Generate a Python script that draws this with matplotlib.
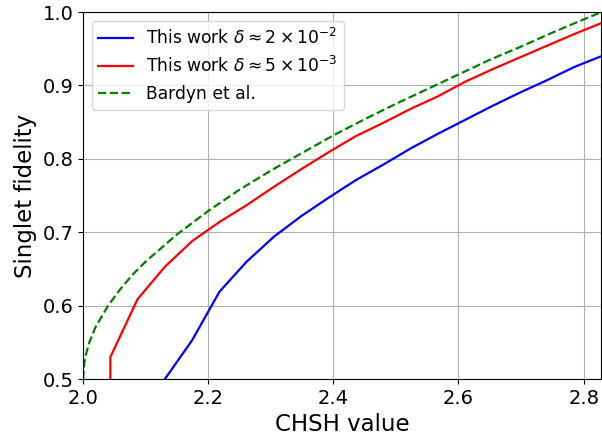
import matplotlib
matplotlib.use("Agg")
import matplotlib.pyplot as plt

# CHSH values and singlet fidelity
chsh_work = [2.0436, 2.0436, 2.0872, 2.1308, 2.1744, 2.2180, 2.2615, 2.3051,
             2.3487, 2.3923, 2.4359, 2.4795, 2.5231, 2.5667, 2.6103, 2.6539,
             2.6974, 2.7410, 2.7846, 2.8284]
fid_delta_5e3 = [0.500, 0.530, 0.609, 0.653, 0.688, 0.714, 0.737, 0.762,
                 0.786, 0.809, 0.831, 0.849, 0.868, 0.885, 0.905, 0.922,
                 0.938, 0.954, 0.970, 0.985]

chsh_blue = [2.1308, 2.1744, 2.2180, 2.2615, 2.3051, 2.3487, 2.3923, 2.4359,
             2.4795, 2.5231, 2.5667, 2.6103, 2.6539, 2.6974, 2.7410, 2.7846,
             2.8284]
fid_delta_2e2 = [0.500, 0.553, 0.619, 0.660, 0.694, 0.722, 0.747, 0.771,
                 0.792, 0.814, 0.834, 0.853, 0.872, 0.890, 0.907, 0.925,
                 0.940]

chsh_bardyn = [2.0, 2.002, 2.005, 2.01, 2.02, 2.04, 2.06, 2.08, 2.10, 2.15,
               2.20, 2.25, 2.30, 2.35, 2.40, 2.45, 2.50, 2.55, 2.60, 2.65,
               2.70, 2.75, 2.80, 2.8284]
fid_bardyn = [0.500, 0.522, 0.535, 0.550, 0.571, 0.600, 0.623, 0.643, 0.660,
              0.697, 0.729, 0.758, 0.784, 0.808, 0.832, 0.854, 0.875, 0.895,
              0.915, 0.935, 0.953, 0.972, 0.990, 1.000]

x_ticks = [2.0, 2.2, 2.4, 2.6, 2.8]
y_ticks = [0.5, 0.6, 0.7, 0.8, 0.9, 1.0]

fig, ax = plt.subplots(figsize=(6.02, 4.48), dpi=100)
fig.subplots_adjust(left=0.138, right=0.999, top=0.973, bottom=0.154)

ax.plot(chsh_blue, fid_delta_2e2, color="blue", lw=1.6,
        label=r"This work $\delta \approx 2 \times 10^{-2}$")
ax.plot(chsh_work, fid_delta_5e3, color="red", lw=1.6,
        label=r"This work $\delta \approx 5 \times 10^{-3}$")
ax.plot(chsh_bardyn, fid_bardyn, "g--", lw=1.6, label="Bardyn et al.")

ax.set_xlim(2.0, 2.8284)
ax.set_ylim(0.5, 1.0)
ax.set_xticks(x_ticks)
ax.set_yticks(y_ticks)
ax.tick_params(labelsize=14)
ax.grid(True)
ax.set_xlabel("CHSH value", fontsize=16.5)
ax.set_ylabel("Singlet fidelity", fontsize=16.5)
ax.legend(loc="upper left", fontsize=12.3)

fig.savefig("out.png", dpi=100)
